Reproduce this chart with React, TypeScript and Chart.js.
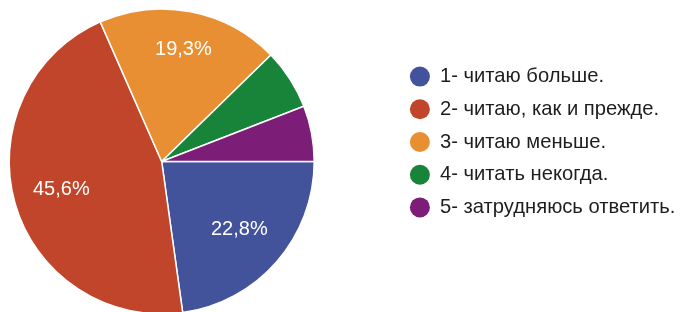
import React, { useEffect, useRef } from "react";
import { Chart, registerables } from "chart.js";

Chart.register(...registerables);

const categories = [
  "1- читаю больше.",
  "2- читаю, как и прежде.",
  "3- читаю меньше.",
  "4- читать некогда.",
  "5- затрудняюсь ответить.",
];
const percentValues = [22.8, 45.6, 19.3, 6.4, 5.9];
const sliceColors = ["#43539b", "#c1452a", "#e98f33", "#18843a", "#7c1d78"];

const FONT = '"Liberation Sans", Arial, sans-serif';

// Forces the pie into a fixed square region on the left (legend lives on the right)
const pieArea = {
  id: "pieArea",
  afterLayout(chart: any, _args: any, opts: any) {
    const { left, top, size } = opts;
    chart.chartArea = {
      left,
      top,
      right: left + size,
      bottom: top + size,
      width: size,
      height: size,
    };
  },
};

// Percentage labels inside the slices
const sliceLabels = {
  id: "sliceLabels",
  afterDatasetsDraw(chart: any, _args: any, opts: any) {
    const meta = chart.getDatasetMeta(0);
    const values: number[] = chart.data.datasets[0].data;
    const total = values.reduce((a, b) => a + b, 0);
    const ctx = chart.ctx;
    ctx.save();
    ctx.fillStyle = opts.color;
    ctx.font = `${opts.size}px ${FONT}`;
    ctx.textAlign = "center";
    ctx.textBaseline = "middle";
    meta.data.forEach((arc: any, i: number) => {
      const pct = (values[i] / total) * 100;
      if (pct < opts.minPercent) return;
      const p = arc.getProps(["x", "y", "startAngle", "endAngle", "outerRadius"], true);
      const mid = (p.startAngle + p.endAngle) / 2;
      const r = p.outerRadius * (opts.radiusFactors[i] ?? 0.7);
      const text = pct.toFixed(1).replace(".", ",") + "%";
      ctx.fillText(text, p.x + Math.cos(mid) * r, p.y + Math.sin(mid) * r);
    });
    ctx.restore();
  },
};

export default function App() {
  const canvasRef = useRef<HTMLCanvasElement | null>(null);

  useEffect(() => {
    if (!canvasRef.current) return;
    Chart.defaults.font.family = FONT;
    const chart = new Chart(canvasRef.current, {
      type: "pie",
      data: {
        labels: categories,
        datasets: [
          {
            data: percentValues,
            backgroundColor: sliceColors,
            borderColor: "#ffffff",
            borderWidth: 1.5,
          },
        ],
      },
      plugins: [pieArea, sliceLabels],
      options: {
        responsive: false,
        animation: false,
        rotation: 90,
        layout: { padding: { left: 397.4, top: 0, right: 0, bottom: 36 } },
        plugins: {
          tooltip: { enabled: false },
          legend: {
            position: "chartArea",
            align: "center",
            labels: {
              usePointStyle: true,
              pointStyle: "circle",
              pointStyleWidth: 20,
              boxHeight: 14.14,
              padding: 12.5,
              color: "#1e1e1e",
              font: { size: 20.2, family: FONT },
              generateLabels: (c: any) =>
                (Chart as any).overrides.pie.plugins.legend.labels
                  .generateLabels(c)
                  .map((l: any) => ({ ...l, lineWidth: 0 })),
            },
          },
          pieArea: { left: 8.45, top: 8.25, size: 306.5 },
          sliceLabels: {
            color: "#ffffff",
            size: 20,
            minPercent: 10,
            radiusFactors: [0.675, 0.684, 0.747],
          },
        } as any,
      },
    });
    return () => chart.destroy();
  }, []);

  return (
    <div
      style={{
        position: "fixed",
        left: 0,
        top: 0,
        width: 681,
        height: 312,
        overflow: "hidden",
        background: "#ffffff",
      }}
    >
      <canvas
        ref={canvasRef}
        width={681}
        height={320}
        style={{ width: 681, height: 320, display: "block" }}
      />
    </div>
  );
}
